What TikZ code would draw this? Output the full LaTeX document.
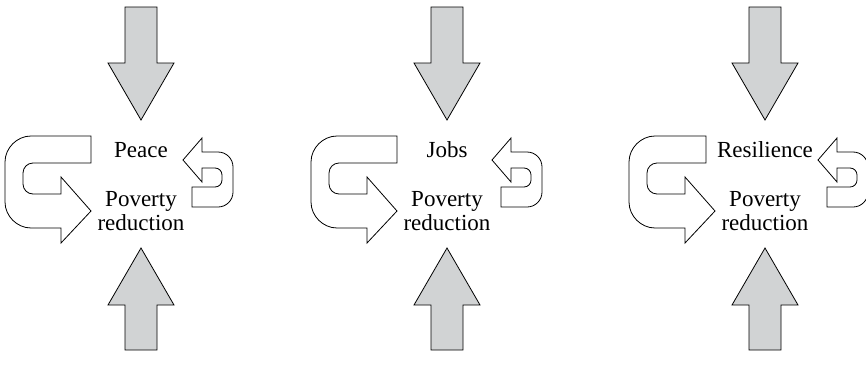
\documentclass[tikz,border=0pt]{standalone}
\usepackage{fontspec}
\setmainfont{Liberation Serif}
\definecolor{flowgray}{RGB}{209,211,212}
\tikzset{
	inflow/.style={draw=black,fill=flowgray,line width=0.8pt,line join=miter},
	loopback/.style={draw=black,fill=white,line width=0.8pt,line join=miter},
	goaltext/.style={font=\fontsize{23pt}{23.5pt}\selectfont,inner sep=0pt}
}

\begin{document}
\begin{tikzpicture}[x=1pt,y=-1pt]
	\useasboundingbox (0,0) rectangle (866,364);

	% one panel per goal: centre, goal word, shift of the small loop, shortening of the big loop
	\foreach \cx/\goal/\sh/\arm [count=\i] in {141/Peace/0/0,447/Jobs/3/0,765/Resilience/11/-9}{
		\begin{scope}[xshift=\cx pt]
			% arrow coming down from above
			\draw[inflow] (-16,7) -- (16,7) -- (16,63) -- (33,63) -- (0,120)
				-- (-33,63) -- (-16,63) -- cycle;
			% arrow coming up from below
			\draw[inflow] (-16,350) -- (16,350) -- (16,305) -- (33,305) -- (0,248)
				-- (-33,305) -- (-16,305) -- cycle;

			% big loop on the left, turning back to the right
			\draw[loopback] (-50+\arm,136) -- (-110,136)
				.. controls (-124,136) and (-136,148) .. (-136,162) -- (-136,202)
				.. controls (-136,216) and (-124,228) .. (-110,228)
				-- (-80,228) -- (-80,243) -- (-50,211) -- (-80,177) -- (-80,194)
				-- (-108,194) .. controls (-113.5,194) and (-118,189.5) .. (-118,184)
				-- (-118,173) .. controls (-118,167.5) and (-113.5,163) .. (-108,163)
				-- (-50+\arm,163) -- cycle;

			% small loop on the right, turning back to the left
			\begin{scope}[xshift=\sh pt]
				\draw[loopback] (42,160) -- (61,138) -- (61,152) -- (77,152)
					.. controls (85.3,152) and (92,158.7) .. (92,167) -- (92,192)
					.. controls (92,200.3) and (85.3,207) .. (77,207)
					-- (51,207) -- (51,187) -- (74,187)
					.. controls (77.9,187) and (81,183.9) .. (81,180) -- (81,175)
					.. controls (81,171.1) and (77.9,168) .. (74,168)
					-- (61,168) -- (61,182) -- cycle;
			\end{scope}

			\node[goaltext,anchor=base] (goal\i) at (0,157.5) {\goal};
			\node[goaltext,anchor=base,align=center] (pov\i) at (0,230) {Poverty\\reduction};
		\end{scope}
	}
\end{tikzpicture}
\end{document}
